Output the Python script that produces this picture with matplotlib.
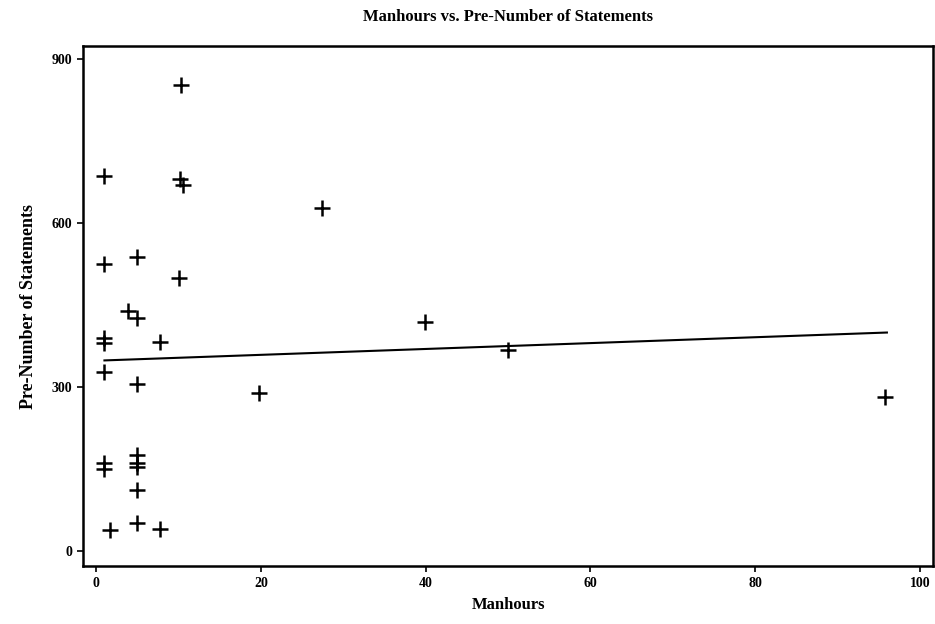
import matplotlib
matplotlib.use("Agg")
import matplotlib.pyplot as plt

# Manhours vs. pre-number of statements
manhours = [1, 1, 1, 1, 1, 1, 1, 1.7, 3.9, 5, 5, 5, 5, 5, 5, 5, 5,
            7.8, 7.7, 10.3, 10.2, 10.5, 10, 19.8, 27.4, 39.9, 50, 95.75]
statements = [686, 525, 390, 380, 328, 162, 150, 38, 439, 426, 538, 305,
              176, 161, 154, 112, 52, 382, 40, 852, 680, 669, 499, 290,
              627, 419, 368, 282]

# fitted regression line endpoints
fit_x = [1, 96]
fit_y = [349, 400]

xticks = [0, 20, 40, 60, 80, 100]
yticks = [0, 300, 600, 900]

plt.rcParams["font.family"] = ["Liberation Serif", "DejaVu Serif"]

fig = plt.figure(figsize=(9.35, 6.24), dpi=100)
ax = fig.add_axes([0.0888, 0.0929, 0.9091, 0.8334])

ax.plot(manhours, statements, linestyle="none", marker="+", color="black",
        markersize=11, markeredgewidth=1.8)
ax.plot(fit_x, fit_y, color="black", lw=1.5)

ax.set_xlim(-1.6, 101.6)
ax.set_ylim(-27, 924)
ax.set_xticks(xticks)
ax.set_yticks(yticks)
ax.tick_params(direction="out", length=4, width=1.2, labelsize=10, pad=4)
for lbl in ax.get_xticklabels() + ax.get_yticklabels():
    lbl.set_fontweight("bold")
for s in ax.spines.values():
    s.set_linewidth(1.8)

ax.set_title("Manhours vs. Pre-Number of Statements", fontsize=12,
             fontweight="semibold", pad=18)
ax.set_xlabel("Manhours", fontsize=12, fontweight="bold", labelpad=5)
ax.set_ylabel("Pre-Number of Statements", fontsize=13, fontweight="bold",
              labelpad=10)

fig.savefig("out.png", dpi=100)
plt.close(fig)
